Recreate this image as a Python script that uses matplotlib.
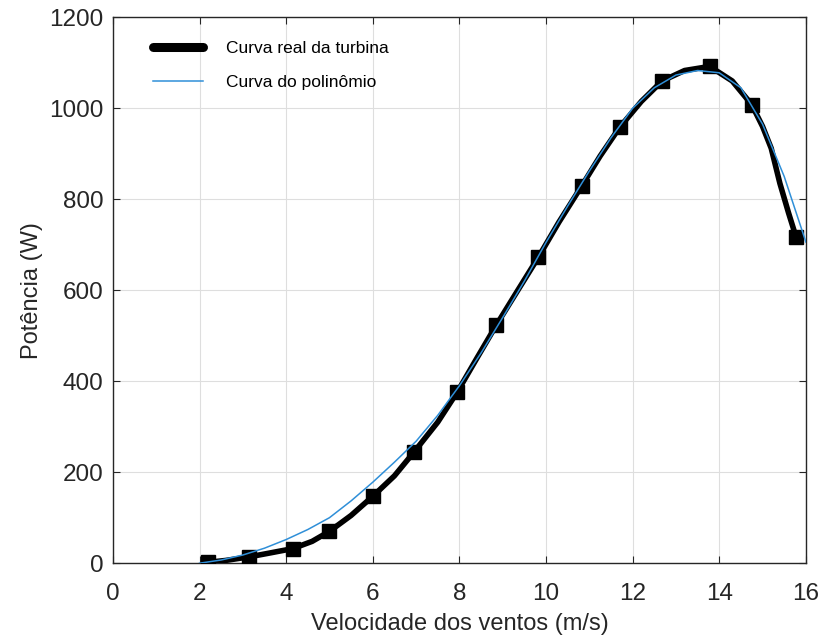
import matplotlib
matplotlib.use("Agg")
import matplotlib.pyplot as plt

# Black "real turbine" curve (wind speed m/s, power W)
real_x = [2.2, 2.6, 3.15, 3.6, 4.15, 4.6, 5.0, 5.5, 6.0, 6.5, 6.95, 7.5, 7.95, 8.4,
          8.85, 9.35, 9.82, 10.3, 10.83, 11.25, 11.7, 12.2, 12.68, 13.2, 13.78, 14.3,
          14.75, 15.0, 15.2, 15.4, 15.6, 15.77]
real_y = [2, 6, 14, 22, 32, 48, 70, 105, 147, 192, 244, 310, 376, 450,
          523, 600, 672, 750, 830, 895, 958, 1015, 1060, 1083, 1092, 1060,
          1008, 960, 912, 835, 770, 718]
marker_idx = [0, 2, 4, 6, 8, 10, 12, 14, 16, 18, 20, 22, 24, 26, 31]

# Blue polynomial curve
poly_x = [2.0, 2.5, 3.0, 3.5, 4.0, 4.5, 5.0, 5.5, 6.0, 6.5, 7.0, 7.5, 8.0, 8.5, 9.0,
          9.5, 10.0, 10.5, 11.0, 11.5, 12.0, 12.5, 13.0, 13.5, 14.0, 14.5, 15.0,
          15.5, 16.0]
poly_y = [0, 7, 18, 33, 52, 74, 100, 137, 178, 222, 268, 325, 390, 462, 540,
          620, 705, 785, 862, 935, 1000, 1045, 1073, 1083, 1078, 1045, 965,
          850, 706]

xticks = [0, 2, 4, 6, 8, 10, 12, 14, 16]
yticks = [0, 200, 400, 600, 800, 1000, 1200]

plt.rcParams['font.family'] = ['Liberation Sans', 'DejaVu Sans']

fig = plt.figure(figsize=(8.24, 6.4), dpi=100)
ax = fig.add_axes([0.137, 0.120, 0.841, 0.853])

ax.plot(real_x, real_y, color='black', lw=4, solid_capstyle='projecting',
        label='Curva real da turbina', zorder=3)
ax.plot(real_x, real_y, color='black', lw=0, marker='s', ms=9.5,
        markevery=marker_idx, zorder=3)
ax.plot(poly_x, poly_y, color='#2f8fd8', lw=1.1, label='Curva do polinômio', zorder=4)

ax.set_xlim(0, 16)
ax.set_ylim(0, 1200)
ax.set_xticks(xticks)
ax.set_yticks(yticks)
ax.grid(True, color='#dedede', lw=0.8)
ax.set_axisbelow(True)
ax.tick_params(direction='in', top=True, right=True, labelsize=17.5,
               colors='#262626', length=5)
ax.tick_params(axis='y', pad=7)
ax.tick_params(axis='x', pad=14)
for s in ax.spines.values():
    s.set_color('#262626')
    s.set_linewidth(1.0)

ax.set_xlabel('Velocidade dos ventos (m/s)', fontsize=17, color='#262626', labelpad=6)
ax.set_ylabel('Potência (W)', fontsize=17, color='#262626', labelpad=4)

leg = ax.legend(loc='upper left', bbox_to_anchor=(0.035, 0.985), frameon=False,
                fontsize=12.5, handlelength=2.9, handletextpad=1.3, labelspacing=1.1)
leg.legend_handles[0].set_linewidth(6.5)
leg.legend_handles[0].set_solid_capstyle('round')

fig.savefig('out.png', dpi=100)
